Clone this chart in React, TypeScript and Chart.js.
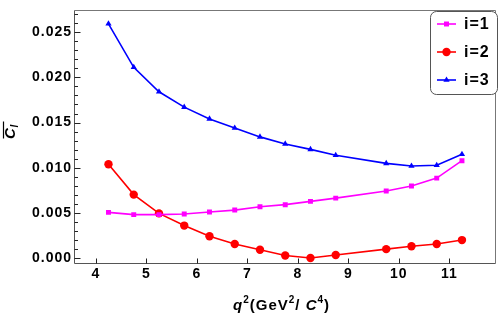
import React, { useEffect, useRef } from 'react';
import { Chart, registerables } from 'chart.js';

Chart.register(...registerables);

const Q2 = [4.25, 4.75, 5.25, 5.75, 6.25, 6.75, 7.25, 7.75, 8.25, 8.75, 9.75, 10.25, 10.75, 11.25];
const C1 = [0.00509, 0.00484, 0.00484, 0.00491, 0.00513, 0.00534, 0.0057, 0.00594, 0.0063, 0.00666, 0.00744, 0.0080, 0.00887, 0.01079];
const C2 = [0.0104, 0.00705, 0.00498, 0.00363, 0.00246, 0.0016, 0.00096, 0.00032, 0.00006, 0.00038, 0.00103, 0.00135, 0.0016, 0.00203];
const C3 = [0.0259, 0.0211, 0.0184, 0.0167, 0.0154, 0.0144, 0.01342, 0.01264, 0.01204, 0.01139, 0.0105, 0.0102, 0.01029, 0.0115];
const SERIES_NAMES = ['i=1', 'i=2', 'i=3'];
const SERIES_COLORS = ['#FF00FF', '#FF0000', '#0000FF'];
const SERIES_MARKERS = ['rect', 'circle', 'triangle'];
const SERIES_RADII = [3.5, 4.2, 3.6];
const X_TICKS = [4, 5, 6, 7, 8, 9, 10, 11];
const Y_TICKS = [0, 0.005, 0.01, 0.015, 0.02, 0.025];
const Y_MINOR = [0.001, 0.002, 0.003, 0.004, 0.006, 0.007, 0.008, 0.009, 0.011, 0.012, 0.013, 0.014, 0.016, 0.017, 0.018, 0.019, 0.021, 0.022, 0.023, 0.024, 0.026, 0.027];
const X_MIN = 3.567;
const X_MAX = 11.92;
const Y_MIN = -0.0005;
const Y_MAX = 0.02738;

const FONT = '"Liberation Sans", Arial, sans-serif';

function drawMarker(ctx: CanvasRenderingContext2D, kind: string, x: number, y: number, r: number, color: string) {
  ctx.save();
  ctx.fillStyle = color;
  ctx.beginPath();
  if (kind === 'rect') {
    const s = r * Math.SQRT1_2;
    ctx.rect(x - s, y - s, 2 * s, 2 * s);
  } else if (kind === 'circle') {
    ctx.arc(x, y, r, 0, Math.PI * 2);
  } else {
    const h = r * 1.5;
    const w = r * 0.866 * 2;
    ctx.moveTo(x, y - h * 0.66);
    ctx.lineTo(x + w / 2, y + h * 0.34);
    ctx.lineTo(x - w / 2, y + h * 0.34);
    ctx.closePath();
  }
  ctx.fill();
  ctx.restore();
}

const framePlugin = {
  id: 'frame',
  beforeDraw(chart: any) {
    (chart.ctx as any).letterSpacing = '1px';
  },
  beforeDatasetsDraw(chart: any) {
    const { ctx, chartArea } = chart;
    const { left, right, top, bottom } = chartArea;
    const ys = chart.scales.y;
    const xs = chart.scales.x;
    ctx.save();
    ctx.lineWidth = 1;
    // top & right frame
    ctx.strokeStyle = '#777';
    ctx.beginPath();
    ctx.moveTo(Math.round(left) + 0.5, Math.round(top) + 0.5);
    ctx.lineTo(Math.round(right) - 0.5, Math.round(top) + 0.5);
    ctx.lineTo(Math.round(right) - 0.5, Math.round(bottom) + 0.5);
    ctx.stroke();
    // left & bottom axes
    ctx.strokeStyle = '#555';
    ctx.beginPath();
    ctx.moveTo(Math.round(left) + 0.5, Math.round(top) + 0.5);
    ctx.lineTo(Math.round(left) + 0.5, Math.round(bottom) + 0.5);
    ctx.lineTo(Math.round(right) - 0.5, Math.round(bottom) + 0.5);
    ctx.stroke();
    // ticks
    ctx.strokeStyle = '#222';
    ctx.beginPath();
    const lx = Math.round(left) + 0.5;
    Y_TICKS.forEach((v) => {
      const y = Math.round(ys.getPixelForValue(v)) + 0.5;
      ctx.moveTo(lx, y);
      ctx.lineTo(lx + 6, y);
    });
    Y_MINOR.forEach((v) => {
      const y = Math.round(ys.getPixelForValue(v)) + 0.5;
      ctx.moveTo(lx, y);
      ctx.lineTo(lx + 3.5, y);
    });
    const by = Math.round(bottom) + 0.5;
    X_TICKS.forEach((v) => {
      const x = Math.round(xs.getPixelForValue(v)) + 0.5;
      ctx.moveTo(x, by);
      ctx.lineTo(x, by - 5);
    });
    ctx.stroke();
    ctx.restore();
  },
  afterDraw(chart: any) {
    const ctx: CanvasRenderingContext2D = chart.ctx;
    (ctx as any).letterSpacing = '0px';
    ctx.save();
    // legend
    const bx = 430.5, by = 11.5, bw = 67, bh = 83;
    ctx.fillStyle = '#fff';
    ctx.strokeStyle = '#555';
    ctx.lineWidth = 1;
    ctx.beginPath();
    (ctx as any).roundRect(bx, by, bw, bh, 6);
    ctx.fill();
    ctx.stroke();
    const rows = [24, 52, 80];
    SERIES_NAMES.forEach((name, i) => {
      const y = rows[i];
      ctx.strokeStyle = SERIES_COLORS[i];
      ctx.lineWidth = 1.6;
      ctx.beginPath();
      ctx.moveTo(437, y);
      ctx.lineTo(456, y);
      ctx.stroke();
      drawMarker(ctx, SERIES_MARKERS[i], 446.5, y, SERIES_RADII[i], SERIES_COLORS[i]);
      ctx.fillStyle = '#000';
      (ctx as any).letterSpacing = '1px';
      ctx.font = `bold 16px ${FONT}`;
      ctx.textAlign = 'left';
      ctx.textBaseline = 'middle';
      ctx.fillText(name, 464, y + 1);
    });
    (ctx as any).letterSpacing = '1px';
    // x axis title q^2(GeV^2/C^4)
    ctx.fillStyle = '#000';
    ctx.textBaseline = 'alphabetic';
    ctx.textAlign = 'left';
    const base = 310;
    const supY = base - 7;
    let x = 233;
    const main = `bold 15px ${FONT}`;
    const ital = `italic bold 15px ${FONT}`;
    const sup = `bold 10px ${FONT}`;
    const parts: [string, string, number][] = [
      ['q', ital, base],
      ['2', sup, supY],
      ['(GeV', main, base],
      ['2', sup, supY],
      ['/ ', main, base],
      ['C', ital, base],
      ['4', sup, supY],
      [')', main, base],
    ];
    parts.forEach(([t, f, yy]) => {
      ctx.font = f;
      ctx.fillText(t, x, yy);
      x += ctx.measureText(t).width;
    });
    // y axis title: overline C subscript l, rotated
    ctx.save();
    ctx.translate(15, 130);
    ctx.rotate(-Math.PI / 2);
    ctx.font = `italic bold 15px ${FONT}`;
    ctx.fillText('C', -9, 0);
    ctx.font = `italic bold 10px ${FONT}`;
    ctx.fillText('l', 2.5, 3);
    ctx.strokeStyle = '#000';
    ctx.lineWidth = 1.2;
    ctx.beginPath();
    ctx.moveTo(-8.5, -11.5);
    ctx.lineTo(8.5, -11.5);
    ctx.stroke();
    ctx.restore();
    ctx.restore();
    (ctx as any).letterSpacing = '0px';
  },
};

export default function App() {
  const ref = useRef<HTMLCanvasElement | null>(null);
  useEffect(() => {
    if (!ref.current) return;
    const seriesData = [C1, C2, C3];
    const chart = new Chart(ref.current, {
      type: 'line',
      data: {
        datasets: seriesData.map((arr, i) => ({
          label: SERIES_NAMES[i],
          data: Q2.map((q, k) => ({ x: q, y: arr[k] })),
          borderColor: SERIES_COLORS[i],
          backgroundColor: SERIES_COLORS[i],
          borderWidth: 1.6,
          pointStyle: SERIES_MARKERS[i] as any,
          pointRadius: SERIES_RADII[i],
          pointBorderWidth: 0,
          tension: 0,
          fill: false,
        })),
      },
      options: {
        animation: false,
        responsive: false,
        devicePixelRatio: 1,
        layout: { padding: { top: 2, right: 1, left: 0, bottom: 0 } },
        plugins: { legend: { display: false }, tooltip: { enabled: false }, title: { display: false } },
        scales: {
          x: {
            type: 'linear',
            min: X_MIN,
            max: X_MAX,
            grid: { display: false, drawTicks: false },
            border: { display: false },
            afterBuildTicks: (s: any) => { s.ticks = X_TICKS.map((v) => ({ value: v })); },
            afterFit: (s: any) => { s.height = 53; },
            ticks: {
              color: '#000',
              font: { family: FONT, size: 14, weight: 'bold' },
              padding: 3,
              maxRotation: 0,
              autoSkip: false,
              callback: (v: any) => String(v),
            },
          },
          y: {
            type: 'linear',
            min: Y_MIN,
            max: Y_MAX,
            grid: { display: false, drawTicks: false },
            border: { display: false },
            afterBuildTicks: (s: any) => { s.ticks = Y_TICKS.map((v) => ({ value: v })); },
            afterFit: (s: any) => { s.width = 74; },
            ticks: {
              color: '#000',
              font: { family: FONT, size: 14, weight: 'bold' },
              padding: 2,
              autoSkip: false,
              callback: (v: any) => Number(v).toFixed(3),
            },
          },
        },
      },
      plugins: [framePlugin],
    });
    return () => chart.destroy();
  }, []);
  return (
    <div style={{ position: 'fixed', left: 0, top: 0, width: 500, height: 316, background: '#fff' }}>
      <canvas ref={ref} width={500} height={316} style={{ width: 500, height: 316, display: 'block' }} />
    </div>
  );
}
